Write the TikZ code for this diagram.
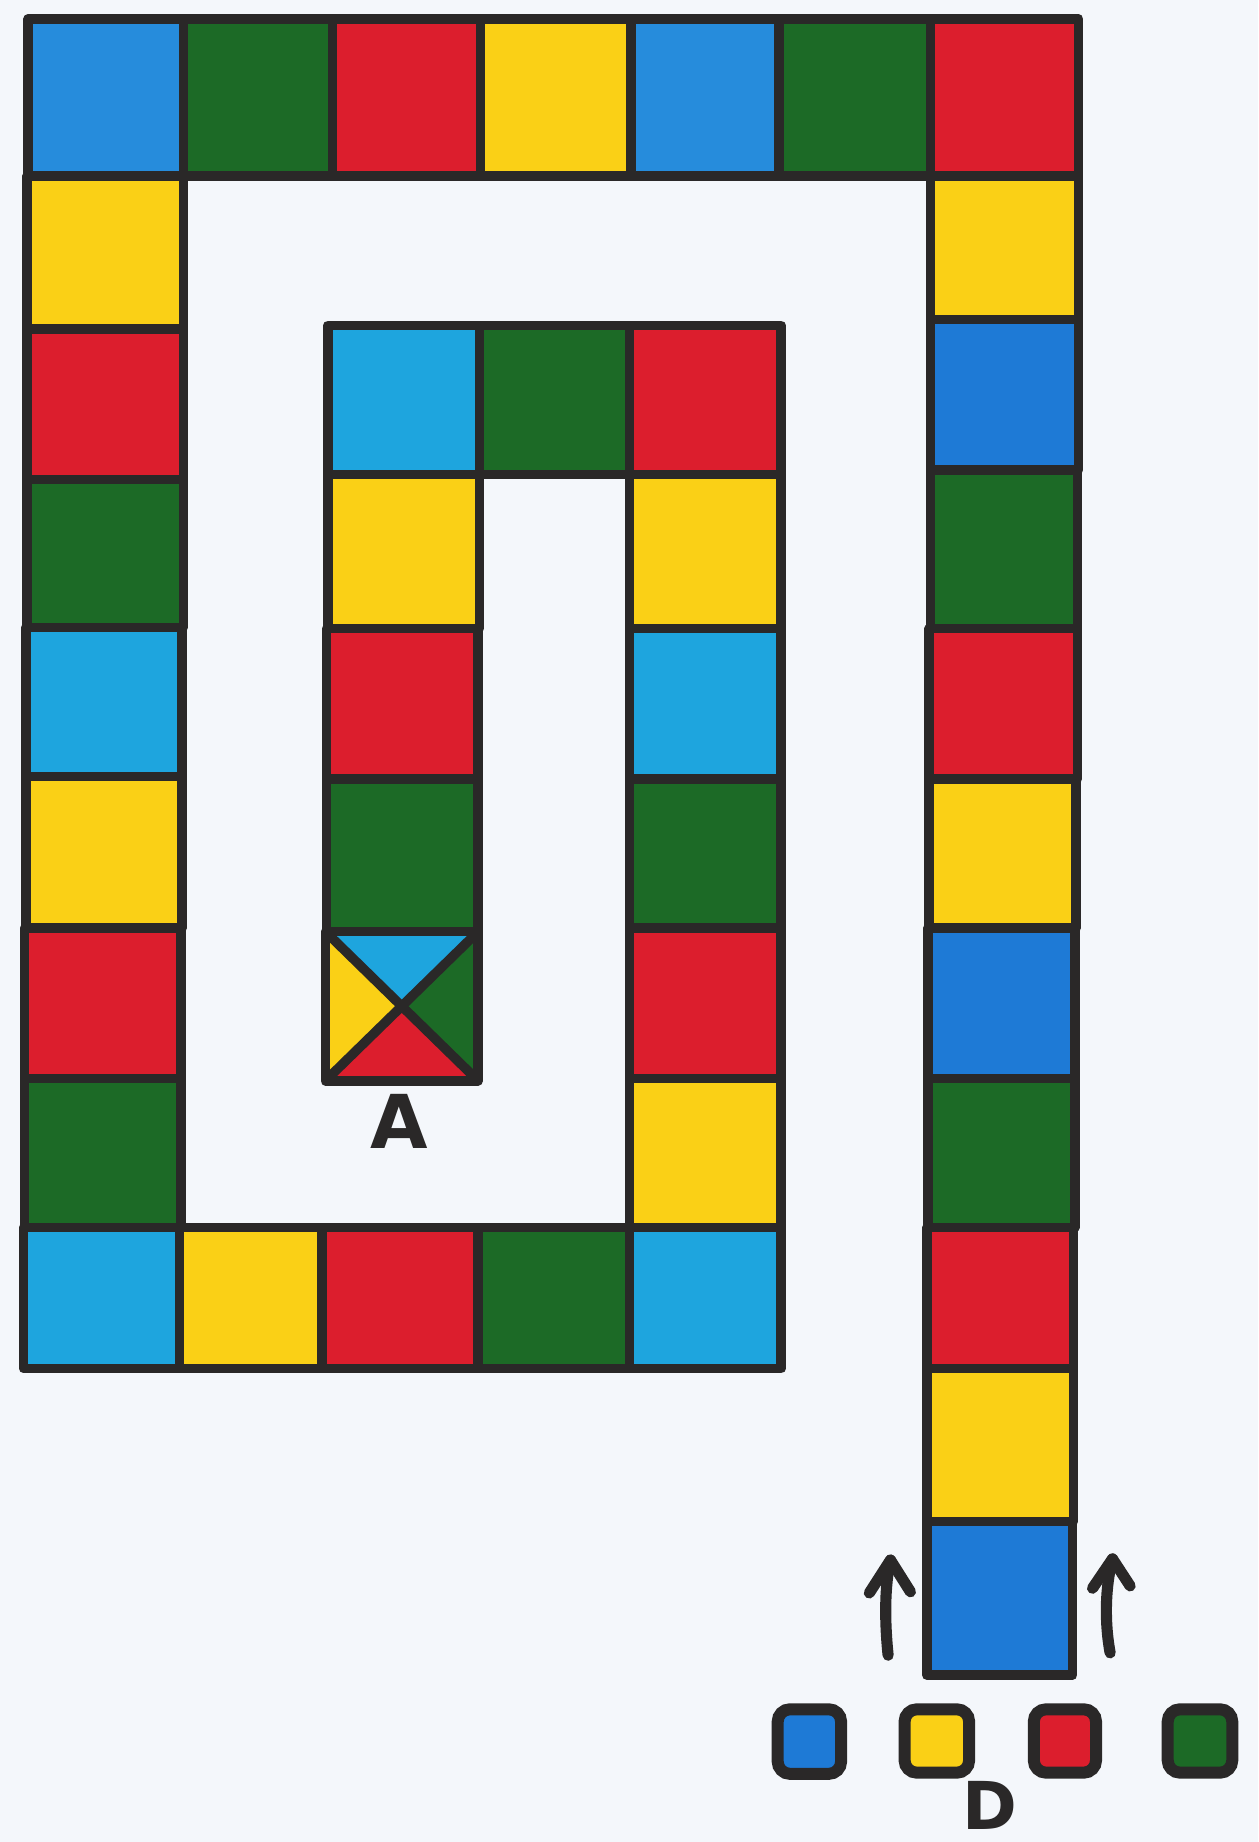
\documentclass[tikz,border=0pt]{standalone}
\usepackage{fontspec}
\setsansfont{DejaVu Sans}
\definecolor{paper}{RGB}{244,247,251}
\definecolor{ink}{RGB}{42,40,40}
\definecolor{bl}{RGB}{38,140,220}
\definecolor{cy}{RGB}{30,165,222}
\definecolor{db}{RGB}{30,122,214}
\definecolor{gr}{RGB}{28,106,38}
\definecolor{rd}{RGB}{220,30,45}
\definecolor{ye}{RGB}{250,208,22}
\begin{document}
\begin{tikzpicture}[x=0.02cm,y=-0.02cm,
  gridline/.style={draw=ink,line width=4.6pt,line join=round},
  pawn/.style={draw=ink,line width=5.8pt,rounded corners=6pt},
  pen/.style={draw=ink,line width=5.4pt,line cap=round,line join=round},
  letter/.style={text=ink,font=\sffamily\bfseries}]
\useasboundingbox (0,0) rectangle (1071,1568);
\fill[paper] (0,0) rectangle (1071,1568);
\def\cells{
24/16/156/150/bl, 156/16/283/150/gr, 283/16/409/150/rd, 409/16/537/150/ye,
537/16/663/150/bl, 663/16/792/150/gr, 792/16/918/150/rd,
23/150/156/280/ye, 23/280/156/408/rd, 23/408/156/534/gr, 22/534/155/661/cy,
22/661/155/790/ye, 21/790/154/918/rd, 21/918/154/1045/gr,
20/1045/153/1165/cy, 153/1045/274/1165/ye, 274/1045/407/1165/rd,
407/1045/536/1165/gr, 536/1045/665/1165/cy,
536/918/665/1045/ye, 536/790/665/918/rd, 536/663/665/790/gr,
536/535/665/663/cy, 536/404/665/535/ye,
536/277/665/404/rd, 408/277/536/404/gr, 279/277/408/404/cy,
279/404/408/535/ye, 278/535/407/663/rd, 278/663/407/793/gr,
792/150/918/272/ye, 792/272/918/400/db, 792/400/917/535/gr,
791/535/917/663/rd, 791/663/916/790/ye, 790/790/915/918/db,
790/918/915/1045/gr, 789/1045/914/1165/rd, 789/1165/914/1295/ye,
789/1295/913/1426/db}
% fills
\foreach \xa/\ya/\xb/\yb/\c in \cells {
  \fill[\c] (\xa,\ya) rectangle (\xb,\yb);
}
% finish cell (A)
\coordinate (xtl) at (277,793);
\coordinate (xtr) at (407,793);
\coordinate (xbr) at (407,920);
\coordinate (xbl) at (277,920);
\coordinate (xc) at (342,856);
\fill[cy] (xtl) -- (xtr) -- (xc) -- cycle;
\fill[gr] (xtr) -- (xbr) -- (xc) -- cycle;
\fill[rd] (xbr) -- (xbl) -- (xc) -- cycle;
\fill[ye] (xbl) -- (xtl) -- (xc) -- cycle;
% outlines
\foreach \xa/\ya/\xb/\yb/\c in \cells {
  \path[gridline] (\xa,\ya) rectangle (\xb,\yb);
}
\path[gridline] (xtl) rectangle (xbr);
\path[gridline] (xtl) -- (xbr) (xtr) -- (xbl);
% labels
\node[letter,font=\sffamily\bfseries\fontsize{36}{40}\selectfont] (labelA) at (340,955) {A};
\node[letter,font=\sffamily\bfseries\fontsize{32}{36}\selectfont] (labelD) at (843,1537) {D};
% start arrows
\coordinate (la0) at (756,1409);
\coordinate (la1) at (758,1328);
\coordinate (ra0) at (945,1407);
\coordinate (ra1) at (947,1327);
\path[pen] (la0) .. controls (753,1380) and (753,1350) .. (la1);
\path[pen] (740,1356) -- (la1) -- (775,1355);
\path[pen] (ra0) .. controls (940,1380) and (941,1350) .. (ra1);
\path[pen] (930,1352) -- (ra1) -- (962,1350);
% pawns
\path[pawn,fill=db] (662,1455) rectangle (716,1510);
\path[pawn,fill=ye] (770,1455) rectangle (825,1509);
\path[pawn,fill=rd] (880,1455) rectangle (933,1509);
\path[pawn,fill=gr] (994,1455) rectangle (1049,1509);
\end{tikzpicture}
\end{document}
